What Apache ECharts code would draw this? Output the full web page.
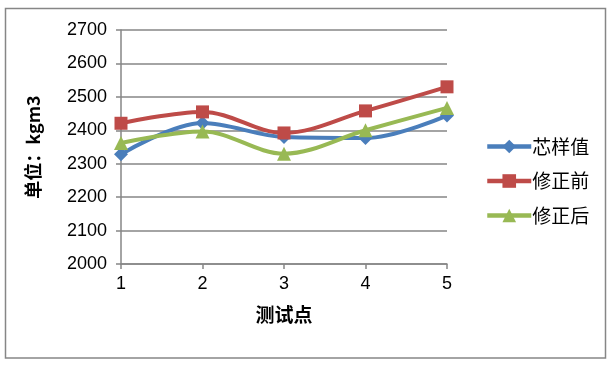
<!DOCTYPE html>
<html><head><meta charset="utf-8">
<script src="https://cdn.jsdelivr.net/npm/echarts@6/dist/echarts.min.js"></script>
<style>html,body{margin:0;padding:0;background:#fff}#c{width:611px;height:368px}</style>
</head><body><div id="c"></div>
<script>
var categories = ['1', '2', '3', '4', '5'];
var coreValues = [2328, 2422, 2380, 2377, 2444];
var beforeCorr = [2421, 2455, 2392, 2458, 2530];
var afterCorr = [2362, 2396, 2330, 2400, 2467];
var seriesNames = ['芯样值', '修正前', '修正后'];
var yTitle = '单位：kgm3';
var xTitle = '测试点';

var cjk = '"Noto Sans CJK SC", sans-serif';
var num = '"Liberation Sans", sans-serif';
var gray = '#868686';
var chart = echarts.init(document.getElementById('c'), null, {renderer: 'canvas'});
function mk(name, data, color, symbol, size) {
  return {
    name: name, type: 'line', data: data, smooth: 0.35,
    symbol: symbol, symbolSize: size, showSymbol: true,
    lineStyle: {color: color, width: 4},
    itemStyle: {color: color},
    emphasis: {disabled: true}
  };
}
chart.setOption({
  animation: false,
  graphic: [{type: 'rect', shape: {x: 5.5, y: 8.5, width: 600, height: 349.5},
    style: {fill: 'none', stroke: gray, lineWidth: 1.5}}],
  grid: {left: 121, right: 164, top: 30, bottom: 104},
  legend: {
    orient: 'vertical', left: 480, top: 132, itemWidth: 44, itemHeight: 17, itemGap: 15.5,
    data: seriesNames,
    lineStyle: {width: 4.5},
    textStyle: {fontFamily: cjk, fontSize: 19, color: '#000', padding: [0, 0, 0, -4]}
  },
  xAxis: {
    type: 'category', data: categories, boundaryGap: false,
    name: xTitle, nameLocation: 'middle', nameGap: 41,
    nameTextStyle: {fontFamily: cjk, fontSize: 19, fontWeight: 'bold', color: '#000'},
    axisLine: {lineStyle: {color: gray, width: 1.5}},
    axisTick: {show: true, alignWithLabel: true, length: 5, lineStyle: {color: gray, width: 1.5}},
    axisLabel: {fontFamily: num, fontSize: 18, color: '#000', margin: 11},
    splitLine: {show: false}
  },
  yAxis: {
    type: 'value', min: 2000, max: 2700, interval: 100,
    name: yTitle, nameLocation: 'middle', nameGap: 79, nameRotate: 90,
    nameTextStyle: {fontFamily: cjk, fontSize: 18, fontWeight: 'bold', color: '#000'},
    axisLine: {show: true, lineStyle: {color: gray, width: 1.5}},
    axisTick: {show: true, length: 5, lineStyle: {color: gray, width: 1.5}},
    axisLabel: {fontFamily: num, fontSize: 18, color: '#000', margin: 14,
      formatter: function (v) { return String(v); }},
    splitLine: {lineStyle: {color: gray, width: 1.5}}
  },
  series: [
    mk(seriesNames[0], coreValues, '#4A7EBB', 'diamond', 14),
    mk(seriesNames[1], beforeCorr, '#BE4B48', 'rect', 13),
    mk(seriesNames[2], afterCorr, '#98B954', 'triangle', 14)
  ]
});
</script></body></html>
